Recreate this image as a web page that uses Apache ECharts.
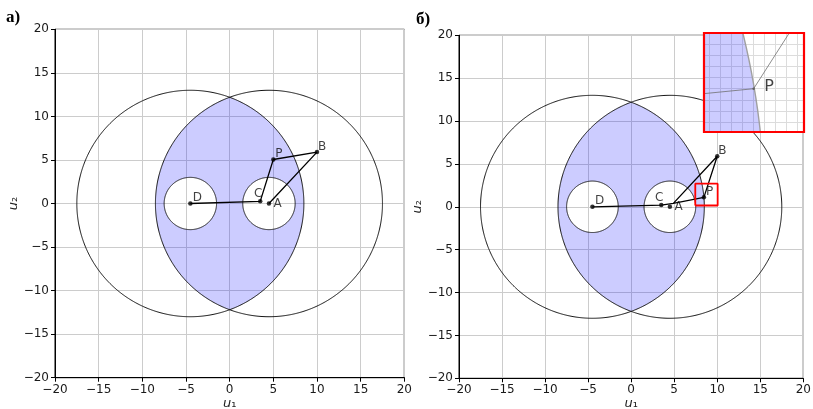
<!DOCTYPE html>
<html><head><meta charset="utf-8">
<script src="https://cdn.jsdelivr.net/npm/echarts@6/dist/echarts.min.js"></script>
<style>html,body{margin:0;padding:0;background:#fff}#c{width:813px;height:409px}</style>
</head><body><div id="c"></div>
<script>
// ---- data ----
const ticks = [-20, -15, -10, -5, 0, 5, 10, 15, 20];
const bigCircles = [[-4.5, 0, 13], [4.5, 0, 13]];
const smallCircles = [[-4.5, 0, 3], [4.5, 0, 3]];
const pointNames = ['D', 'C', 'A', 'P', 'B'];
const pointsA = [[-4.5, 0], [3.5, 0.25], [4.5, 0], [5, 5.05], [10, 5.9]];
const pathA = [[-4.5, 0], [3.5, 0.25], [5, 5.05], [10, 5.9], [4.5, 0]];
const pointsB = [[-4.5, 0], [3.5, 0.2], [4.5, 0], [8.45, 1.1], [10, 5.9]];
const pathB = [[-4.5, 0], [3.5, 0.2], [4.9, 0.4], [8.45, 1.1], [10, 5.9], [4.9, 0.4]];
const zoomRect = [[7.45, 0.15], [10.05, 0.15], [10.05, 2.7], [7.45, 2.7], [7.45, 0.15]];
const insetX = [8.2244, 8.679];
const insetY = [0.710, 1.6018];
const insetPoint = [[8.45, 1.1]];

// ---- styles ----
const FONT = 'DejaVu Sans';
const labelOff = {D: [2.5, -5.5], C: [-6.2, -7.5], A: [4.5, 0.3], P: [2, -5.7], B: [1, -5]};

function arcPts(c, a0, a1, n) {
  const pts = [];
  for (let i = 0; i <= n; i++) {
    const a = a0 + (a1 - a0) * i / n;
    pts.push([c[0] + c[2] * Math.cos(a), c[1] + c[2] * Math.sin(a)]);
  }
  return pts;
}
function toPath(pts, api) {
  return pts.map((q, i) => { const c = api.coord(q); return (i ? 'L' : 'M') + c[0].toFixed(2) + ' ' + c[1].toFixed(2); }).join('') + 'Z';
}
function lensRender(params, api) {
  const L = bigCircles[0], R = bigCircles[1];
  const d = (R[0] - L[0]) / 2;
  const beta = Math.acos(d / R[2]);
  const ring = arcPts(R, Math.PI - beta, Math.PI + beta, 600).concat(arcPts(L, -beta, beta, 600));
  let p = toPath(ring, api);
  smallCircles.forEach(c => { p += toPath(arcPts(c, 2 * Math.PI, 0, 240), api); });
  return {type: 'path', shape: {pathData: p}, style: {fill: 'rgba(0,0,255,0.2)', stroke: null}};
}
function circleRenderer(color, width) {
  return function (params, api) {
    const c = [api.value(0), api.value(1), api.value(2)];
    const pts = arcPts(c, 0, 2 * Math.PI, 720).map(q => api.coord(q));
    return {type: 'polyline', shape: {points: pts}, style: {stroke: color, lineWidth: width, fill: null}};
  };
}
function fmt(v) { return String(v).replace('-', '\u2212'); }

function mainX(gi) {
  return {
    gridIndex: gi, type: 'value', min: ticks[0], max: ticks[ticks.length - 1], interval: ticks[1] - ticks[0],
    axisLine: {show: true, onZero: false, lineStyle: {color: '#000', width: 1}},
    axisTick: {show: true, length: 4, lineStyle: {color: '#000'}},
    axisLabel: {fontFamily: FONT, fontSize: 12, color: '#1a1a1a', margin: 6, formatter: fmt},
    splitLine: {show: true, lineStyle: {color: '#cccccc', width: 1}},
    name: '{i|u}{n|\u2081}', nameLocation: 'middle', nameGap: 19, nameMoveOverlap: false,
    nameTextStyle: {rich: {i: {fontStyle: 'italic', fontSize: 13, fontFamily: FONT, color: '#222'}, n: {fontSize: 13, fontFamily: FONT, color: '#222'}}}
  };
}
function mainY(gi) {
  return {
    gridIndex: gi, type: 'value', min: ticks[0], max: ticks[ticks.length - 1], interval: ticks[1] - ticks[0],
    axisLine: {show: true, onZero: false, lineStyle: {color: '#000', width: 1}},
    axisTick: {show: true, length: 4, lineStyle: {color: '#000'}},
    axisLabel: {fontFamily: FONT, fontSize: 12, color: '#1a1a1a', margin: 6, formatter: fmt},
    splitLine: {show: true, lineStyle: {color: '#cccccc', width: 1}},
    name: '{i|u}{n|\u2082}', nameLocation: 'middle', nameGap: 34,
    nameTextStyle: {rich: {i: {fontStyle: 'italic', fontSize: 13, fontFamily: FONT, color: '#222'}, n: {fontSize: 13, fontFamily: FONT, color: '#222'}}}
  };
}
function scatterData(pts) {
  return pts.map((p, i) => ({value: p, name: pointNames[i], label: {offset: labelOff[pointNames[i]]}}));
}
function panelSeries(gi, pts, path) {
  return [
    {type: 'custom', xAxisIndex: gi, yAxisIndex: gi, data: [[0, 0]], renderItem: lensRender, z: 2, silent: true},
    {type: 'custom', xAxisIndex: gi, yAxisIndex: gi, data: bigCircles.concat(smallCircles), renderItem: circleRenderer('#111', 1), z: 3, silent: true},
    {type: 'line', xAxisIndex: gi, yAxisIndex: gi, data: path, symbol: 'none', lineStyle: {color: '#000', width: 1.3}, z: 4, silent: true},
    {type: 'scatter', xAxisIndex: gi, yAxisIndex: gi, data: scatterData(pts), symbolSize: 4.5, itemStyle: {color: '#000'}, z: 5, silent: true,
      label: {show: true, position: 'inside', align: 'left', verticalAlign: 'middle', formatter: '{b}', color: '#111', fontSize: 12, fontFamily: FONT}}
  ];
}

const series = [].concat(
  panelSeries(0, pointsA, pathA),
  panelSeries(1, pointsB, pathB),
  [
    {type: 'line', xAxisIndex: 1, yAxisIndex: 1, data: zoomRect, symbol: 'none', lineStyle: {color: '#ff0000', width: 1.8}, z: 6, silent: true},
    // inset
    {type: 'custom', xAxisIndex: 2, yAxisIndex: 2, data: [[insetX[0], insetY[0]]], clip: true, z: 20, silent: true,
      renderItem: function (params, api) {
        const r = params.coordSys;
        return {type: 'rect', shape: {x: r.x, y: r.y, width: r.width, height: r.height}, style: {fill: '#fff', stroke: null}};
      }},
    {type: 'custom', xAxisIndex: 2, yAxisIndex: 2, data: [[0, 0]], renderItem: lensRender, clip: true, z: 22, silent: true},
    {type: 'custom', xAxisIndex: 2, yAxisIndex: 2, data: bigCircles.concat(smallCircles), renderItem: circleRenderer('#a0a0a0', 1.4), clip: true, z: 23, silent: true},
    {type: 'line', xAxisIndex: 2, yAxisIndex: 2, data: pathB, symbol: 'none', lineStyle: {color: '#707070', width: 0.8}, z: 24, silent: true},
    {type: 'scatter', xAxisIndex: 2, yAxisIndex: 2, data: insetPoint.map(p => ({value: p, name: 'P'})), symbolSize: 2.5, itemStyle: {color: '#555'}, z: 25, silent: true,
      label: {show: true, position: 'inside', align: 'left', verticalAlign: 'middle', offset: [10.5, -1.7], formatter: '{b}', color: '#111', fontSize: 16, fontFamily: FONT}},
    {type: 'custom', xAxisIndex: 2, yAxisIndex: 2, data: [[insetX[0], insetY[0]]], clip: false, z: 30, silent: true,
      renderItem: function (params, api) {
        const r = params.coordSys;
        return {type: 'rect', shape: {x: r.x, y: r.y, width: r.width, height: r.height}, style: {fill: null, stroke: '#ff0000', lineWidth: 2.2}};
      }}
  ]
);

const chart = echarts.init(document.getElementById('c'), null, {renderer: 'canvas'});
chart.setOption({
  animation: false,
  backgroundColor: '#fff',
  grid: [
    {left: 55, top: 29.3, width: 349.3, height: 348.4, show: true, borderColor: '#000', borderWidth: 1, backgroundColor: 'transparent', containLabel: false, outerBoundsMode: 'none'},
    {left: 459, top: 35.3, width: 344.3, height: 343, show: true, borderColor: '#000', borderWidth: 1, backgroundColor: 'transparent', containLabel: false, outerBoundsMode: 'none'},
    {left: 704, top: 33, width: 100, height: 99, show: false, containLabel: false, outerBoundsMode: 'none', z: 10}
  ],
  xAxis: [mainX(0), mainX(1),
    {gridIndex: 2, type: 'value', min: insetX[0], max: insetX[1], splitNumber: 9, z: 21,
      axisLine: {show: false}, axisTick: {show: false}, axisLabel: {show: false},
      splitLine: {show: true, lineStyle: {color: '#dcdcdc', width: 1}}}],
  yAxis: [mainY(0), mainY(1),
    {gridIndex: 2, type: 'value', min: insetY[0], max: insetY[1], splitNumber: 9, z: 21,
      axisLine: {show: false}, axisTick: {show: false}, axisLabel: {show: false},
      splitLine: {show: true, lineStyle: {color: '#dcdcdc', width: 1}}}],
  graphic: [
    {type: 'text', left: 6, top: 9, z: 50, style: {text: 'а)', font: 'bold 17px "Liberation Serif"', fill: '#000'}},
    {type: 'text', left: 416, top: 11, z: 50, style: {text: 'б)', font: 'bold 17px "Liberation Serif"', fill: '#000'}}
  ],
  series: series
});
</script></body></html>
